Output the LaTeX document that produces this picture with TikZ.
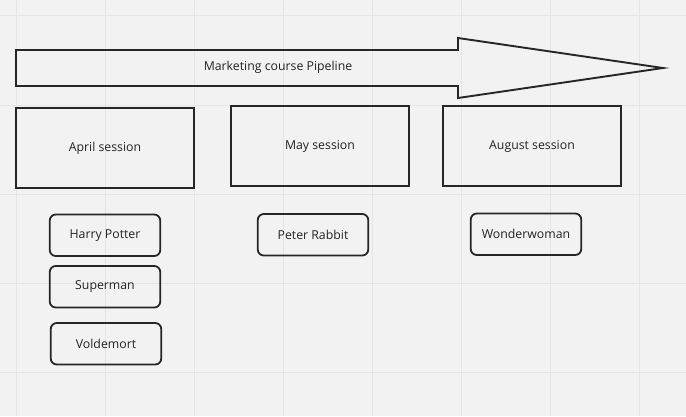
\documentclass[tikz,border=0pt]{standalone}
\usepackage{fontspec}
\setmainfont{Open Sans}
\usepackage{xcolor}
\usetikzlibrary{positioning}

\definecolor{boardbg}{HTML}{F2F2F2}
\definecolor{gridln}{HTML}{E4E4E4}
\definecolor{ink}{HTML}{262626}
\definecolor{txt}{HTML}{222222}

\begin{document}
\begin{tikzpicture}[x=1pt, y=-1pt, font=\fontsize{12.3}{14}\selectfont, every node/.style={inner sep=0pt, outer sep=0pt, text=txt}]
        \tikzset{
            session/.style={draw=ink, line width=1.9pt, minimum width=178pt, minimum height=80pt},
            hero/.style={draw=ink, line width=1.8pt, rounded corners=6pt, minimum width=110.5pt, minimum height=41.5pt},
            pipe/.style={draw=ink, line width=1.9pt, line join=miter}
        }
        % board
        \fill[boardbg] (0,0) rectangle (686,416);
        \useasboundingbox (0,0) rectangle (686,416);
        \foreach \gx in {16.5,105.5,194.5,283.5,372.5,461.5,550.5,639.5}
            \draw[gridln, line width=1pt] (\gx,0) -- (\gx,416);
        \foreach \gy in {15.5,105,194,283,372}
            \draw[gridln, line width=1pt] (0,\gy) -- (686,\gy);
        % pipeline arrow
        \draw[pipe] (16,50) -- (458,50) -- (458,38) -- (663,68) -- (458,98) -- (458,86) -- (16,86) -- cycle;
        \node (pipeline) at (278,67) {Marketing course Pipeline};
        % sessions
        \node[session] (april) at (105,148) {April session};
        \node[session] (may) at (320,146) {May session};
        \node[session] (august) at (532,146) {August session};
        % people
        \node[hero, below=26.5pt of april] (harry) {Harry Potter};
        \node[hero, below=10pt of harry] (superman) {Superman};
        \node[hero, below=15.5pt of superman, xshift=1pt] (voldemort) {Voldemort};
        \node[hero, below=28pt of may, xshift=-7pt] (peter) {Peter Rabbit};
        \node[hero, below=27.5pt of august, xshift=-6pt] (wonder) {Wonderwoman};
    \end{tikzpicture}
\end{document}
